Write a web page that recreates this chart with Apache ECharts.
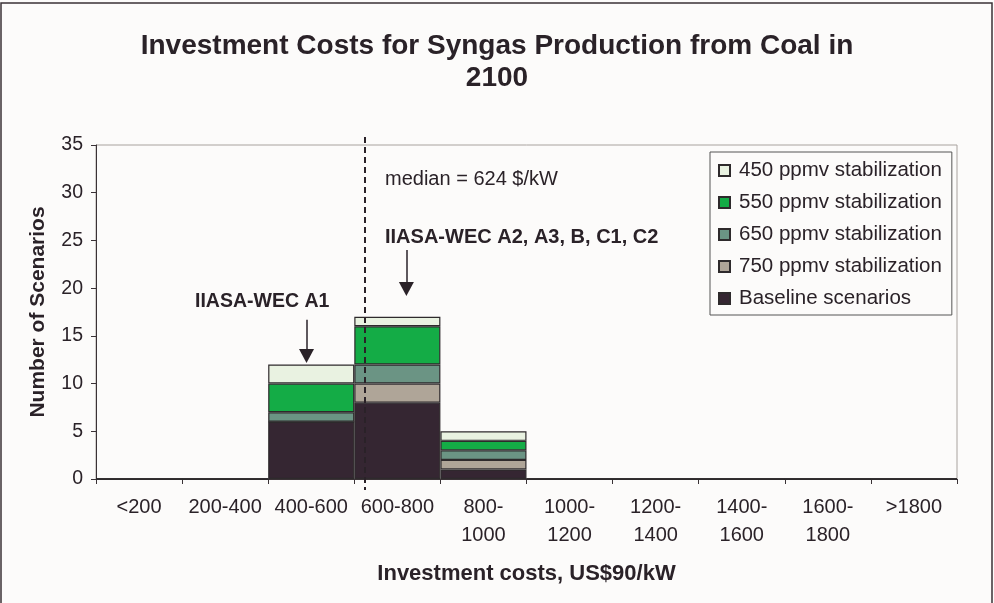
<!DOCTYPE html>
<html>
<head>
<meta charset="utf-8">
<script src="https://cdn.jsdelivr.net/npm/echarts@6/dist/echarts.min.js"></script>
<style>
  html, body { margin: 0; padding: 0; background: #fcfbfa; }
  #chart { width: 994px; height: 603px; }
</style>
</head>
<body>
<div id="chart"></div>
<script>
// Cost classes (US$90/kW) on the horizontal axis
const categories = ['<200', '200-400', '400-600', '600-800', '800-\n1000', '1000-\n1200',
  '1200-\n1400', '1400-\n1600', '1600-\n1800', '>1800'];

// Number of scenarios per cost class, by scenario group
const baseline = [0, 0, 6, 8, 1, 0, 0, 0, 0, 0];
const ppmv750 = [0, 0, 0, 2, 1, 0, 0, 0, 0, 0];
const ppmv650 = [0, 0, 1, 2, 1, 0, 0, 0, 0, 0];
const ppmv550 = [0, 0, 3, 4, 1, 0, 0, 0, 0, 0];
const ppmv450 = [0, 0, 2, 1, 1, 0, 0, 0, 0, 0];

const yTicks = [0, 5, 10, 15, 20, 25, 30, 35];
const medianCost = 624;

const ink = '#2a2228';
const font = 'Liberation Sans, Arial, sans-serif';

const chart = echarts.init(document.getElementById('chart'));

function stackSeries(name, data, color) {
  return {
    name: name,
    type: 'bar',
    stack: 'scen',
    data: data,
    barCategoryGap: '0%',
    itemStyle: { color: color, borderColor: '#2e2a2c', borderWidth: 1.2 },
    emphasis: { disabled: true }
  };
}

chart.setOption({
  backgroundColor: '#fcfbfa',
  animation: false,
  textStyle: { fontFamily: font, color: ink },
  title: {
    text: 'Investment Costs for Syngas Production from Coal in\n2100',
    left: 'center',
    top: 25,
    textStyle: { fontFamily: font, fontSize: 28, fontWeight: 'bold', lineHeight: 32, color: ink }
  },
  legend: {
    orient: 'vertical',
    left: 710,
    top: 152,
    width: 238,
    padding: [8, 10, 6, 8],
    itemWidth: 11,
    itemHeight: 11,
    itemGap: 11,
    icon: 'rect',
    borderColor: '#555',
    borderWidth: 1,
    backgroundColor: '#fcfbfa',
    data: ['450 ppmv stabilization', '550 ppmv stabilization', '650 ppmv stabilization',
      '750 ppmv stabilization', 'Baseline scenarios'],
    textStyle: { fontFamily: font, fontSize: 20.5, color: ink, padding: [0, 0, 0, 4], lineHeight: 20 }
  },
  grid: {
    left: 96, right: 37, top: 145, bottom: 124,
    show: true, borderColor: '#a8a29e', borderWidth: 1, backgroundColor: 'transparent'
  },
  xAxis: [{
    type: 'category',
    data: categories,
    name: 'Investment costs, US$90/kW',
    nameLocation: 'middle',
    nameGap: 84,
    nameTextStyle: { fontFamily: font, fontSize: 22, fontWeight: 'bold', color: ink },
    axisLine: { lineStyle: { color: '#3a3236', width: 1 } },
    axisTick: { show: true, length: 5, lineStyle: { color: '#3a3236' } },
    axisLabel: { fontFamily: font, fontSize: 20, lineHeight: 28, color: ink, margin: 14, interval: 0 }
  }, {
    // helper value scale (US$/kW) for the median and pointer marks
    type: 'value', min: 0, max: 2000, show: false
  }],
  yAxis: {
    type: 'value',
    min: yTicks[0],
    max: yTicks[yTicks.length - 1],
    interval: yTicks[1] - yTicks[0],
    name: 'Number of Scenarios',
    nameLocation: 'middle',
    nameGap: 47,
    nameTextStyle: { fontFamily: font, fontSize: 21, fontWeight: 'bold', color: ink },
    axisLine: { show: true, lineStyle: { color: '#3a3236', width: 1 } },
    axisTick: { show: true, length: 5, lineStyle: { color: '#3a3236' } },
    axisLabel: { fontFamily: font, fontSize: 19.5, color: ink, margin: 13 },
    splitLine: { show: false }
  },
  series: [
    stackSeries('Baseline scenarios', baseline, '#352632'),
    stackSeries('750 ppmv stabilization', ppmv750, '#afa598'),
    stackSeries('650 ppmv stabilization', ppmv650, '#6b9484'),
    stackSeries('550 ppmv stabilization', ppmv550, '#14ac46'),
    stackSeries('450 ppmv stabilization', ppmv450, '#e9f2e1'),
    {
      name: 'marks',
      type: 'scatter',
      xAxisIndex: 1,
      data: [],
      clip: false,
      silent: true,
      markLine: {
        silent: true,
        animation: false,
        label: { show: false },
        lineStyle: { color: ink, width: 1.5, type: 'solid' },
        data: [
          [
            { coord: [489, 16.7], symbol: 'none' },
            { coord: [489, 12.9], symbol: 'triangle', symbolSize: [15, 14] }
          ],
          [
            { coord: [721, 24.0], symbol: 'none' },
            { coord: [721, 19.9], symbol: 'triangle', symbolSize: [15, 14] }
          ]
        ]
      }
    }
  ]
});

// Median line: placed on the cost scale, running a little past the plot edges
const medX = Math.round(chart.convertToPixel({ xAxisIndex: 1 }, medianCost));
const topY = chart.convertToPixel({ yAxisIndex: 0 }, yTicks[yTicks.length - 1]);
const botY = chart.convertToPixel({ yAxisIndex: 0 }, yTicks[0]);

chart.setOption({
  graphic: [
    {
      type: 'rect',
      shape: { x: 1, y: 3, width: 991, height: 640 },
      style: { fill: 'none', stroke: '#3a3236', lineWidth: 1.5 },
      silent: true
    },
    {
      type: 'line',
      shape: { x1: medX, y1: topY - 8, x2: medX, y2: botY + 11 },
      style: { stroke: ink, lineWidth: 2, lineDash: [6, 4] },
      z: 10,
      silent: true
    },
    {
      type: 'text', left: 385, top: 169,
      style: { text: 'median = 624 $/kW', font: '20px ' + font, fill: ink }
    },
    {
      type: 'text', left: 385, top: 227,
      style: { text: 'IIASA-WEC A2, A3, B, C1, C2', font: 'bold 20px ' + font, fill: ink }
    },
    {
      type: 'text', left: 195, top: 292,
      style: { text: 'IIASA-WEC A1', font: 'bold 19.5px ' + font, fill: ink }
    }
  ]
});
</script>
</body>
</html>
